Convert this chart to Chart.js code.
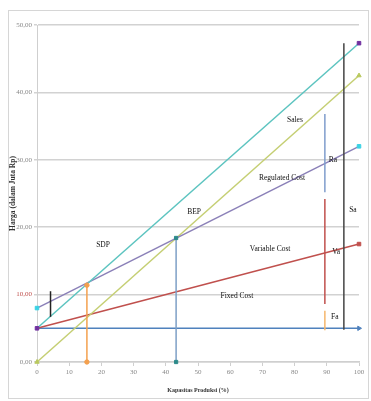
<!DOCTYPE html>
<html>
<head>
<meta charset="utf-8">
<script src="https://cdn.jsdelivr.net/npm/chart.js@4"></script>
<style>
  html, body { margin: 0; padding: 0; background: #fff; }
  #wrap { width: 371px; height: 401px; }
</style>
</head>
<body>
<div id="wrap"><canvas id="bepChart" width="371" height="401"></canvas></div>
<script>
// capacity range (%)
const xLimits = [0, 100];

// main lines (values at 0% and 100%)
const fixedCost     = [5, 5];
const variableCost  = [5, 17.5];
const salesLine     = [0, 42.5];
const totalRevenue  = [5, 47.3];
const regulatedCost = [8, 32];

// vertical markers
const sdpX  = [15.5, 15.5],  sdpY  = [0, 11.4];
const bepX  = [43.2, 43.2],  bepY  = [0, 18.4];
const tickX = [4.2, 4.2],    tickY = [6.7, 10.5];
const raX   = [89.4, 89.4],  raY   = [25.2, 36.8];
const vaX   = [89.4, 89.4],  vaY   = [8.6, 24.2];
const faX   = [89.4, 89.4],  faY   = [4.7, 7.6];
const saX   = [95.3, 95.3],  saY   = [4.8, 47.3];

// axis ticks
const yTickValues = [0, 10, 20, 30, 40, 50];
const yTickLabels = ['0,00', '10,00', '20,00', '30,00', '40,00', '50,00'];
const xTickValues = [0, 10, 20, 30, 40, 50, 60, 70, 80, 90, 100];

// text notes inside the plot
const noteLabels = ['Sales', 'Regulated Cost', 'Ra', 'Sa', 'BEP', 'SDP', 'Variable Cost', 'Va', 'Fixed Cost', 'Fa'];
const noteX = [80.1, 76.1, 91.9, 98.1, 48.8, 20.5, 72.4, 92.9, 62.1, 92.5];
const noteY = [35.9, 27.3, 30.0, 22.6, 22.3, 17.4, 16.8, 16.3, 9.8, 6.7];

function pts(xs, ys) {
  return xs.map((x, i) => ({ x: x, y: ys[i] }));
}

function line(data, color, opts) {
  return Object.assign({
    data: data,
    borderColor: color,
    backgroundColor: color,
    borderWidth: 1.5,
    pointRadius: 0,
    pointBorderWidth: 1,
    showLine: true,
    fill: false,
    clip: false,
    tension: 0
  }, opts || {});
}

const frame = {
  id: 'frame',
  beforeDraw(chart) {
    const c = chart.ctx;
    c.save();
    c.fillStyle = '#fff';
    c.fillRect(0, 0, chart.width, chart.height);
    c.strokeStyle = '#d6d6d6';
    c.lineWidth = 1;
    c.strokeRect(8.5, 10.5, 360, 388);
    c.restore();
  }
};

const notes = {
  id: 'notes',
  afterDatasetsDraw(chart) {
    const c = chart.ctx;
    const xs = chart.scales.x, ys = chart.scales.y;
    c.save();
    c.font = '7.5px "Liberation Serif"';
    c.fillStyle = '#111';
    c.textAlign = 'center';
    c.textBaseline = 'middle';
    noteLabels.forEach((t, i) => {
      c.fillText(t, xs.getPixelForValue(noteX[i]), ys.getPixelForValue(noteY[i]));
    });
    c.restore();
  }
};

new Chart(document.getElementById('bepChart').getContext('2d'), {
  type: 'scatter',
  data: {
    datasets: [
      line(pts(tickX, tickY), '#222222', { borderWidth: 1.5 }),
      line(pts(sdpX, sdpY), '#f4a04e', { pointRadius: 2.2, pointStyle: 'circle' }),
      line(pts(bepX, bepY), '#7d9fc6', { pointRadius: 2.3, pointStyle: 'rect', pointBackgroundColor: '#2c8a8a', pointBorderColor: '#2c8a8a' }),
      line(pts(raX, raY), '#7f9dcc'),
      line(pts(vaX, vaY), '#c0504d'),
      line(pts(faX, faY), '#f5b66b'),
      line(pts(saX, saY), '#444444'),
      line(pts(xLimits, totalRevenue), '#5cc4c0', { pointRadius: 2.5, pointStyle: 'rect', pointBackgroundColor: '#7030a0', pointBorderColor: '#7030a0' }),
      line(pts(xLimits, regulatedCost), '#8b80b8', { pointRadius: 2.5, pointStyle: 'rect', pointBackgroundColor: '#3ad2e4', pointBorderColor: '#3ad2e4' }),
      line(pts(xLimits, salesLine), '#c5cf73', { pointRadius: 2.5, pointStyle: 'triangle', pointBackgroundColor: '#b9c95e', pointBorderColor: '#b9c95e' }),
      line(pts(xLimits, variableCost), '#c0504d', { pointRadius: [0, 2.5], pointStyle: 'rect' }),
      line(pts(xLimits, fixedCost), '#4f81bd', { pointRadius: [0, 2.5], pointStyle: 'triangle', rotation: 90 })
    ]
  },
  options: {
    responsive: false,
    animation: false,
    events: [],
    layout: { padding: { left: 8, top: 25, right: 12, bottom: 3 } },
    plugins: {
      legend: { display: false },
      tooltip: { enabled: false }
    },
    scales: {
      x: {
        type: 'linear',
        min: 0,
        max: 100,
        afterBuildTicks(s) { s.ticks = xTickValues.map(v => ({ value: v })); },
        afterFit(s) { s.height = 36; },
        grid: { drawOnChartArea: false, color: '#cfcfcf', tickLength: 4, lineWidth: 1 },
        border: { color: '#cfcfcf', width: 1.5 },
        ticks: {
          color: '#888',
          font: { family: '"Liberation Serif"', size: 7 },
          padding: 2,
          maxRotation: 0
        },
        title: {
          display: true,
          text: 'Kapasitas Produksi (%)',
          color: '#333',
          font: { family: '"Liberation Serif"', size: 6, weight: 'bold' },
          padding: { top: 0, bottom: 4 }
        }
      },
      y: {
        min: 0,
        max: 50,
        afterBuildTicks(s) { s.ticks = yTickValues.map(v => ({ value: v })); },
        afterFit(s) { s.width = 29; },
        grid: { color: '#d2d2d2', lineWidth: 1.5, tickLength: 3 },
        border: { color: '#cfcfcf', width: 1 },
        ticks: {
          color: ctx => ctx.tick.value === 10 ? '#c0504d' : '#888',
          font: { family: '"Liberation Serif"', size: 7 },
          padding: 2,
          callback: (v) => yTickLabels[yTickValues.indexOf(v)]
        },
        title: {
          display: true,
          text: 'Harga (dalam Juta Rp)',
          color: '#333',
          font: { family: '"Liberation Serif"', size: 7.5, weight: 'bold' },
          padding: { top: 1, bottom: 0 }
        }
      }
    }
  },
  plugins: [frame, notes]
});
</script>
</body>
</html>
